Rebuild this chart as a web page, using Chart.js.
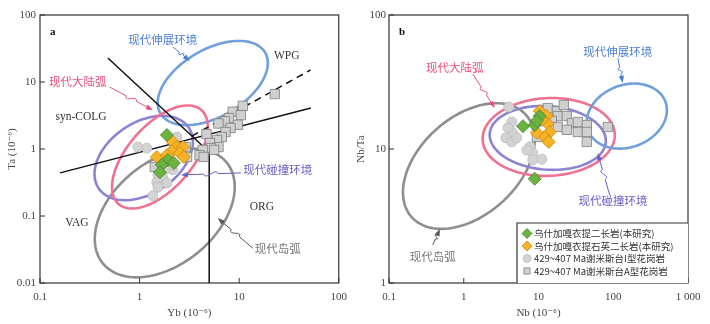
<!DOCTYPE html>
<html>
<head>
<meta charset="utf-8">
<script src="https://cdn.jsdelivr.net/npm/chart.js@4/dist/chart.umd.min.js"></script>
<style>
  html, body { margin: 0; padding: 0; background: #fff; }
  #wrap { width: 710px; height: 324px; display: flex; }
  canvas { display: block; }
</style>
</head>
<body>
<div id="wrap">
  <canvas id="chartA" width="355" height="324"></canvas>
  <canvas id="chartB" width="355" height="324"></canvas>
</div>
<script>
// ---- data: panel a (Yb vs Ta) ----
var aXTicks = [0.1, 1, 10, 100];
var aXLabels = ['0.1', '1', '10', '100'];
var aYTicks = [0.01, 0.1, 1, 10, 100];
var aYLabels = ['0.01', '0.1', '1', '10', '100'];

var aGreen = [[1.88, 1.62], [1.92, 0.685], [2.21, 0.62], [1.67, 0.58], [1.60, 0.45]];
var aOrange = [[2.16, 1.27], [2.37, 1.07], [2.72, 1.07], [2.11, 0.93], [2.54, 0.87], [2.78, 0.76], [1.49, 0.76], [1.88, 0.81]];
var aCircle = [[0.96, 1.07], [1.18, 1.03], [2.37, 1.51], [2.16, 0.49], [1.53, 0.41], [1.71, 0.37], [1.49, 0.32], [1.88, 0.31], [1.53, 0.27], [1.36, 0.20], [2.16, 0.58], [1.79, 0.49]];
var aSquare = [[22.8, 6.6], [10.9, 4.4], [8.6, 3.6], [10.4, 3.2], [7.9, 2.9], [7.2, 2.6], [6.2, 2.4], [9.7, 2.3], [8.2, 2.06], [7.3, 1.79], [6.7, 1.51], [6.0, 1.36], [4.7, 1.67], [5.1, 1.23], [6.2, 1.07], [5.2, 1.03], [4.3, 0.97], [4.0, 0.81], [4.4, 0.76], [3.0, 0.76], [2.9, 1.07], [1.42, 0.54], [5.6, 0.97]];

// boundary lines (Pearce diagram)
var aLineLower = [[0.159, 0.44], [52.5, 4.1]];
var aLineDiag = [[0.48, 22.8], [5, 0.9]];
var aLineVert = [[5, 0.9], [5, 0.01]];
var aLineDash = [[3.35, 1.56], [52, 15.1]];

// fields: centre, point on right side, point above centre
var aFieldExt = [[5.43, 9.66], [19.4, 19.2], [5.43, 34.5]];
var aFieldArc = [[1.60, 0.76], [4.84, 2.13], [1.60, 3.21]];
var aFieldCol = [[1.10, 0.734], [3.43, 1.27], [1.10, 2.81]];
var aFieldIsl = [[1.79, 0.111], [9.03, 0.271], [1.79, 0.84]];

// ---- data: panel b (Nb vs Nb/Ta) ----
var bXTicks = [0.1, 1, 10, 100, 1000];
var bXLabels = ['0.1', '1', '10', '100', '1 000'];
var bYTicks = [1, 10, 100];
var bYLabels = ['1', '10', '100'];

var bGreen = [[6.2, 14.8], [8.9, 15.1], [10.4, 17.6], [9.5, 16.2], [8.9, 6.0]];
var bOrange = [[10.4, 19.2], [12.9, 17.6], [13.3, 15.4], [14.2, 13.4], [12.1, 12.3], [13.7, 11.3], [9.5, 13.2], [11.1, 16.5]];
var bCircle = [[4.0, 20.6], [4.4, 15.9], [4.5, 13.2], [3.65, 12.1], [4.4, 11.3], [5.1, 12.1], [7.7, 10.4], [8.4, 9.3], [8.4, 8.3], [11.1, 8.4], [7.0, 9.8], [3.9, 14.4]];
var bSquare = [[13.3, 20.2], [17.6, 19.2], [21.8, 21.3], [18.1, 17.6], [23.9, 17.6], [15.1, 16.2], [27.9, 15.6], [33.6, 15.9], [18.1, 14.6], [23.9, 13.9], [33.6, 13.4], [44.3, 15.1], [44.3, 13.4], [44.3, 11.3], [84.7, 14.6], [9.5, 12.3]];

var bFieldIsl = [[1.17, 7.46], [8.9, 11.7], [1.17, 19.9]];
var bFieldArc = [[13.7, 12.3], [105, 12.7], [13.7, 24.0]];
var bFieldCol = [[13.3, 12.1], [79.6, 11.5], [13.3, 20.9]];
var bFieldExt = [[152, 17.6], [522, 19.5], [152, 30.5]];

var seriesNames = ['乌什加嘎衣提二长岩(本研究)', '乌什加嘎衣提石英二长岩(本研究)', '429~407 Ma谢米斯台I型花岗岩', '429~407 Ma谢米斯台A型花岗岩'];

// colours
var BLUE = '#70a0dc', PINK = '#f07292', PURPLE = '#8b84d3', GREY = '#8e8e8e';
var BLUE_T = '#4a7fd2', PINK_T = '#ea4f7b', PURPLE_T = '#6a5fc6', GREY_T = '#777777';
var SERIF = '"Liberation Serif", "DejaVu Serif", serif';
var CJK = '"Noto Sans CJK SC", sans-serif';

var styles = [
  { pointStyle: 'rectRot', radius: 6.5, bg: '#6cb23f', border: '#4a7d30' },
  { pointStyle: 'rectRot', radius: 6.5, bg: '#f7b226', border: '#c98812' },
  { pointStyle: 'circle', radius: 5, bg: '#d3d3d3', border: '#bdbdbd' },
  { pointStyle: 'rect', radius: 6.6, bg: '#d0d0d0', border: '#7d7d7d' }
];

function pts(arr) {
  return arr.map(function (p) { return { x: p[0], y: p[1] }; });
}

function pointSet(arr, st, order) {
  return {
    data: pts(arr), pointStyle: st.pointStyle, pointRadius: st.radius,
    backgroundColor: st.bg, borderColor: st.border, borderWidth: 0.8,
    showLine: false, order: order
  };
}

function lineSet(arr, dash) {
  return {
    data: pts(arr), showLine: true, pointRadius: 0, borderColor: '#111',
    borderWidth: 1.5, borderDash: dash || [], order: 10
  };
}

// draws the wavy pointer lines
function squiggle(ctx, x1, y1, x2, y2, color) {
  var dx = x2 - x1, dy = y2 - y1, len = Math.hypot(dx, dy);
  var ux = dx / len, uy = dy / len, nx = -uy, ny = ux;
  var p1x = x1 + dx * 0.38, p1y = y1 + dy * 0.38;
  var p2x = x1 + dx * 0.62, p2y = y1 + dy * 0.62;
  ctx.save();
  ctx.strokeStyle = color; ctx.fillStyle = color; ctx.lineWidth = 1;
  ctx.beginPath();
  ctx.moveTo(x1, y1);
  ctx.lineTo(p1x, p1y);
  ctx.bezierCurveTo(p1x + ux * 2 + nx * 7, p1y + uy * 2 + ny * 7,
                    p2x - ux * 2 - nx * 7, p2y - uy * 2 - ny * 7, p2x, p2y);
  ctx.lineTo(x2 - ux * 4, y2 - uy * 4);
  ctx.stroke();
  ctx.beginPath();
  ctx.moveTo(x2, y2);
  ctx.lineTo(x2 - ux * 7 + nx * 2.6, y2 - uy * 7 + ny * 2.6);
  ctx.lineTo(x2 - ux * 7 - nx * 2.6, y2 - uy * 7 - ny * 2.6);
  ctx.closePath();
  ctx.fill();
  ctx.restore();
}

function drawMarker(ctx, st, x, y, r) {
  ctx.save();
  ctx.fillStyle = st.bg; ctx.strokeStyle = st.border; ctx.lineWidth = 0.8;
  ctx.beginPath();
  if (st.pointStyle === 'circle') {
    ctx.arc(x, y, r * 0.8, 0, Math.PI * 2);
  } else if (st.pointStyle === 'rect') {
    var h = r * 0.62;
    ctx.rect(x - h, y - h, 2 * h, 2 * h);
  } else {
    ctx.moveTo(x, y - r); ctx.lineTo(x + r, y); ctx.lineTo(x, y + r); ctx.lineTo(x - r, y);
    ctx.closePath();
  }
  ctx.fill(); ctx.stroke();
  ctx.restore();
}

function makeOverlay(cfg) {
  return {
    id: 'overlay',
    beforeDatasetsDraw: function (chart) {
      var ctx = chart.ctx, a = chart.chartArea, sx = chart.scales.x, sy = chart.scales.y;
      function px(p) { return [sx.getPixelForValue(p[0]), sy.getPixelForValue(p[1])]; }
      ctx.save();
      ctx.beginPath(); ctx.rect(a.left, a.top, a.right - a.left, a.bottom - a.top); ctx.clip();
      cfg.fields.forEach(function (f) {
        var c = px(f.pts[0]), r = px(f.pts[1]), t = px(f.pts[2]);
        var ux = r[0] - c[0], uy = r[1] - c[1], vx = t[0] - c[0], vy = t[1] - c[1];
        ctx.beginPath();
        for (var i = 0; i <= 120; i++) {
          var th = i / 120 * Math.PI * 2;
          var X = c[0] + ux * Math.cos(th) + vx * Math.sin(th);
          var Y = c[1] + uy * Math.cos(th) + vy * Math.sin(th);
          if (i === 0) ctx.moveTo(X, Y); else ctx.lineTo(X, Y);
        }
        ctx.closePath();
        ctx.strokeStyle = f.color; ctx.lineWidth = 2.6;
        ctx.stroke();
      });
      ctx.restore();
    },
    afterDraw: function (chart) {
      var ctx = chart.ctx, a = chart.chartArea, sx = chart.scales.x, sy = chart.scales.y;
      function px(p) { return [sx.getPixelForValue(p[0]), sy.getPixelForValue(p[1])]; }
      ctx.save();
      // frame
      ctx.strokeStyle = '#333'; ctx.lineWidth = 1.2;
      ctx.strokeRect(a.left, a.top, a.right - a.left, a.bottom - a.top);
      // inner ticks
      ctx.lineWidth = 1;
      cfg.xTicks.forEach(function (v) {
        var x = sx.getPixelForValue(v);
        ctx.beginPath(); ctx.moveTo(x, a.bottom); ctx.lineTo(x, a.bottom - 5); ctx.stroke();
      });
      cfg.yTicks.forEach(function (v) {
        var y = sy.getPixelForValue(v);
        ctx.beginPath(); ctx.moveTo(a.left, y); ctx.lineTo(a.left + 5, y); ctx.stroke();
      });
      // panel letter
      ctx.fillStyle = '#111'; ctx.font = 'bold 11px ' + SERIF;
      ctx.textAlign = 'left'; ctx.textBaseline = 'middle';
      ctx.fillText(cfg.letter, a.left + 10, a.top + 17);
      // axis titles
      ctx.fillStyle = '#444'; ctx.font = '11px ' + SERIF; ctx.textAlign = 'center';
      ctx.fillText(cfg.xTitle, (a.left + a.right) / 2, a.bottom + 30);
      ctx.save();
      ctx.translate(a.left - 28, (a.top + a.bottom) / 2);
      ctx.rotate(-Math.PI / 2);
      ctx.fillText(cfg.yTitle, 0, 0);
      ctx.restore();
      // field labels
      cfg.labels.forEach(function (l) {
        var p = px(l.at);
        ctx.fillStyle = l.color || '#333';
        ctx.font = l.color ? '11.5px ' + CJK : '11.5px ' + SERIF;
        ctx.textAlign = 'center'; ctx.textBaseline = 'middle';
        ctx.fillText(l.text, p[0], p[1]);
      });
      cfg.arrows.forEach(function (ar) {
        var s = px(ar.from), e = px(ar.to);
        squiggle(ctx, s[0], s[1], e[0], e[1], ar.color);
      });
      // legend box
      if (cfg.legend) {
        var lx = a.right - 171, ly = a.bottom - 60;
        ctx.fillStyle = '#fff'; ctx.fillRect(lx, ly, a.right - lx, a.bottom - ly);
        ctx.strokeStyle = '#333'; ctx.lineWidth = 1.2;
        ctx.beginPath(); ctx.moveTo(lx, a.bottom); ctx.lineTo(lx, ly); ctx.lineTo(a.right, ly); ctx.stroke();
        var rows = [10.5, 23, 35.5, 48];
        seriesNames.forEach(function (name, i) {
          var yy = ly + rows[i];
          drawMarker(ctx, styles[i], lx + 10, yy, 5);
          ctx.fillStyle = '#333'; ctx.font = '9.5px ' + CJK;
          ctx.textAlign = 'left'; ctx.textBaseline = 'middle';
          ctx.fillText(name, lx + 17, yy);
        });
      }
      ctx.restore();
    }
  };
}

function makeChart(id, cfg) {
  var tickFont = { family: SERIF, size: 11 };
  new Chart(document.getElementById(id), {
    type: 'scatter',
    data: { datasets: cfg.datasets },
    options: {
      responsive: false,
      animation: false,
      layout: { padding: { left: 0, top: 15, right: cfg.padRight, bottom: 0 } },
      plugins: { legend: { display: false }, tooltip: { enabled: false } },
      scales: {
        x: {
          type: 'logarithmic', min: cfg.xTicks[0], max: cfg.xTicks[cfg.xTicks.length - 1],
          grid: { display: false, drawTicks: false }, border: { display: false },
          afterBuildTicks: function (s) { s.ticks = cfg.xTicks.map(function (v) { return { value: v }; }); },
          afterFit: function (s) { s.height = 41; },
          ticks: {
            autoSkip: false, maxRotation: 0, padding: 8, color: '#444', font: tickFont,
            callback: function (v) { return cfg.xLabels[cfg.xTicks.indexOf(v)]; }
          }
        },
        y: {
          type: 'logarithmic', min: cfg.yTicks[0], max: cfg.yTicks[cfg.yTicks.length - 1],
          grid: { display: false, drawTicks: false }, border: { display: false },
          afterBuildTicks: function (s) { s.ticks = cfg.yTicks.map(function (v) { return { value: v }; }); },
          afterFit: function (s) { s.width = cfg.yWidth; },
          ticks: {
            autoSkip: false, padding: cfg.yPad, color: '#444', font: tickFont,
            callback: function (v) { return cfg.yLabels[cfg.yTicks.indexOf(v)]; }
          }
        }
      }
    },
    plugins: [makeOverlay(cfg)]
  });
}

makeChart('chartA', {
  xTicks: aXTicks, xLabels: aXLabels, yTicks: aYTicks, yLabels: aYLabels,
  yWidth: 40, yPad: 4, padRight: 16, letter: 'a',
  xTitle: 'Yb (10⁻⁶)', yTitle: 'Ta (10⁻⁶)',
  datasets: [
    lineSet(aLineLower), lineSet(aLineDiag), lineSet(aLineVert), lineSet(aLineDash, [7, 5]),
    pointSet(aCircle, styles[2], 4), pointSet(aSquare, styles[3], 3),
    pointSet(aOrange, styles[1], 2), pointSet(aGreen, styles[0], 1)
  ],
  fields: [
    { pts: aFieldExt, color: BLUE }, { pts: aFieldIsl, color: GREY },
    { pts: aFieldCol, color: PURPLE }, { pts: aFieldArc, color: PINK }
  ],
  labels: [
    { text: '现代伸展环境', at: [1.71, 42.4], color: BLUE_T },
    { text: 'WPG', at: [30, 24.4] },
    { text: '现代大陆弧', at: [0.24, 10], color: PINK_T },
    { text: 'syn-COLG', at: [0.258, 3.0] },
    { text: '现代碰撞环境', at: [24.4, 0.49], color: PURPLE_T },
    { text: 'ORG', at: [16.9, 0.136] },
    { text: 'VAG', at: [0.235, 0.079] },
    { text: '现代岛弧', at: [24.4, 0.033], color: GREY_T }
  ],
  arrows: [
    { from: [2.16, 33.3], to: [3.2, 20.6], color: BLUE_T },
    { from: [0.50, 8.4], to: [1.36, 3.8], color: PINK_T },
    { from: [10.4, 0.44], to: [2.6, 0.41], color: PURPLE_T },
    { from: [13.7, 0.033], to: [6.1, 0.093], color: '#555' }
  ],
  legend: false
});

makeChart('chartB', {
  xTicks: bXTicks, xLabels: bXLabels, yTicks: bYTicks, yLabels: bYLabels,
  yWidth: 34, yPad: 3, padRight: 22, letter: 'b',
  xTitle: 'Nb (10⁻⁶)', yTitle: 'Nb/Ta',
  datasets: [
    pointSet(bCircle, styles[2], 4), pointSet(bSquare, styles[3], 3),
    pointSet(bOrange, styles[1], 2), pointSet(bGreen, styles[0], 1)
  ],
  fields: [
    { pts: bFieldIsl, color: GREY }, { pts: bFieldArc, color: PINK },
    { pts: bFieldCol, color: PURPLE }, { pts: bFieldExt, color: BLUE }
  ],
  labels: [
    { text: '现代伸展环境', at: [115, 53], color: BLUE_T },
    { text: '现代大陆弧', at: [0.76, 40.2], color: PINK_T },
    { text: '现代碰撞环境', at: [99, 4.1], color: PURPLE_T },
    { text: '现代岛弧', at: [0.385, 1.56], color: GREY_T }
  ],
  arrows: [
    { from: [115, 47.7], to: [134, 31.1], color: BLUE_T },
    { from: [1.32, 36.3], to: [2.6, 20.2], color: PINK_T },
    { from: [90, 4.5], to: [62, 9.3], color: PURPLE_T },
    { from: [0.385, 1.92], to: [0.48, 2.53], color: '#555' }
  ],
  legend: true
});
</script>
</body>
</html>
